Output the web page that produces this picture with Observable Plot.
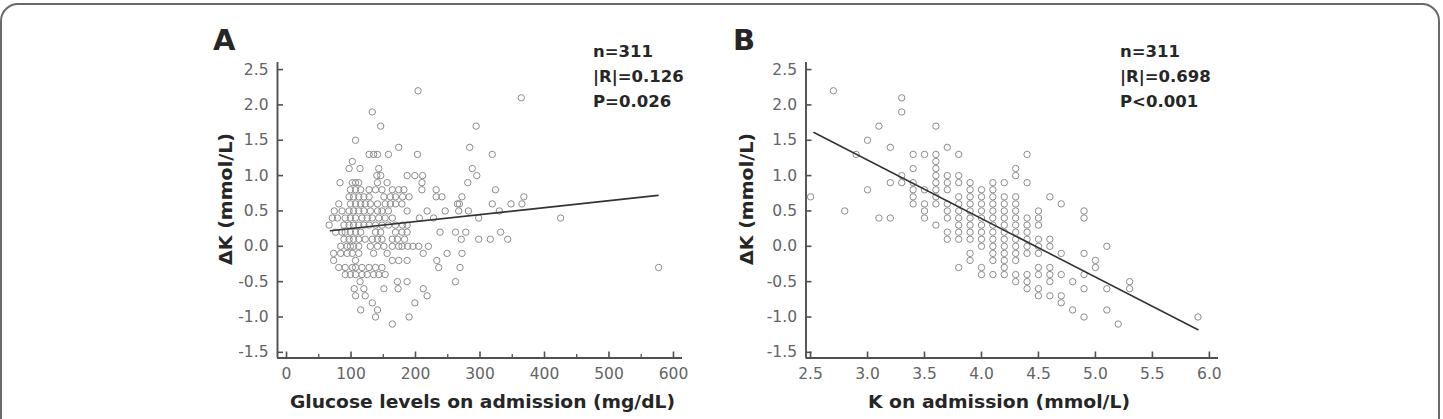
<!DOCTYPE html>
<html><head><meta charset="utf-8">
<script src="https://cdn.jsdelivr.net/npm/d3@7"></script>
<script src="https://cdn.jsdelivr.net/npm/@observablehq/plot@0.6"></script>
<style>
body{margin:0;background:#fff;overflow:hidden;font-family:"DejaVu Sans",sans-serif;}
#wrap{position:relative;width:1443px;height:419px;overflow:hidden;}
#frame{position:absolute;left:0;top:3px;width:1436px;height:470px;border:2.5px solid #6a6a6a;border-radius:18px;}
.panel{position:absolute;top:0;}
#overlay{position:absolute;left:0;top:0;}
</style></head><body>
<div id="wrap"><div id="frame"></div></div>
<script>
// ---------- data ----------
const yTicks = [-1.5, -1.0, -0.5, 0.0, 0.5, 1.0, 1.5, 2.0, 2.5];
const glucoseTicks = [0, 100, 200, 300, 400, 500, 600];
const glucoseMinorTicks = [50, 150, 250, 350, 450, 550];
const kTicks = [2.5, 3.0, 3.5, 4.0, 4.5, 5.0, 5.5, 6.0];

// Panel A: ΔK levels and the glucose values (mg/dL) observed at each level
const deltaKLevelsA = [2.2, 2.1, 1.9, 1.7, 1.5, 1.4, 1.3, 1.2, 1.1, 1.0, 0.9, 0.8, 0.7, 0.6, 0.5, 0.4, 0.3, 0.2, 0.1, 0.0,
  -0.1, -0.2, -0.3, -0.4, -0.5, -0.6, -0.7, -0.8, -0.9, -1.0, -1.1];
const glucoseRowsA = [
  [204],
  [364],
  [133],
  [146, 294],
  [107],
  [174, 284],
  [128, 135, 141, 158, 203, 319],
  [102],
  [97, 114, 143, 288],
  [140, 146, 187, 199, 211, 295],
  [83, 102, 107, 112, 141, 156, 210, 281],
  [99, 107, 115, 128, 138, 148, 164, 174, 182, 210, 232, 324],
  [97, 104, 112, 120, 128, 151, 161, 169, 180, 190, 232, 241, 272, 368],
  [81, 99, 107, 115, 122, 130, 141, 153, 161, 169, 179, 265, 268, 319, 348, 365],
  [74, 86, 97, 104, 112, 120, 130, 141, 148, 158, 187, 218, 246, 267, 282, 330],
  [71, 79, 91, 99, 107, 117, 125, 133, 143, 153, 164, 206, 228, 298, 425],
  [66, 89, 97, 104, 112, 120, 128, 138, 148, 158, 169, 180, 187],
  [76, 86, 91, 99, 107, 115, 138, 146, 169, 179, 187, 238, 262, 278, 332],
  [89, 97, 104, 112, 122, 133, 141, 148, 164, 172, 183, 271, 298, 316, 343],
  [84, 94, 99, 104, 112, 130, 141, 151, 164, 174, 179, 188, 196, 205, 220],
  [73, 84, 94, 102, 112, 135, 156, 212, 249, 272],
  [73, 107, 164, 174, 187, 233],
  [81, 91, 102, 107, 117, 128, 138, 148, 236, 269, 577],
  [91, 99, 107, 117, 125, 135, 143, 153],
  [114, 172, 187, 262],
  [105, 120, 151, 173, 212],
  [107, 122, 218],
  [133, 199],
  [115, 141],
  [138, 190],
  [164]
];

// Panel B: K on admission (mmol/L) and the ΔK values observed at each K
const kLevelsB = [2.5, 2.7, 2.8, 2.9, 3.0, 3.1, 3.2, 3.3, 3.4, 3.5, 3.6, 3.7, 3.8, 3.9, 4.0, 4.1, 4.2, 4.3, 4.4, 4.5,
  4.6, 4.7, 4.8, 4.9, 5.0, 5.1, 5.2, 5.3, 5.9];
const deltaKColsB = [
  [0.7],
  [2.2],
  [0.5],
  [1.3],
  [1.5, 0.8],
  [1.7, 0.4],
  [1.4, 0.9, 0.4],
  [2.1, 1.9, 1.0, 0.9],
  [1.3, 1.1, 0.9, 0.8, 0.7, 0.6],
  [1.3, 0.8, 0.6, 0.5, 0.4],
  [1.7, 1.3, 1.2, 1.1, 1.0, 0.9, 0.8, 0.7, 0.6, 0.3],
  [1.4, 1.0, 0.9, 0.8, 0.6, 0.5, 0.4, 0.2, 0.1],
  [1.3, 1.0, 0.9, 0.7, 0.6, 0.5, 0.4, 0.3, 0.2, 0.1, -0.3],
  [0.9, 0.8, 0.7, 0.6, 0.5, 0.4, 0.3, 0.2, 0.1, -0.1, -0.2],
  [0.8, 0.7, 0.6, 0.5, 0.4, 0.3, 0.2, 0.1, 0.0, -0.3, -0.4],
  [0.9, 0.8, 0.7, 0.6, 0.5, 0.4, 0.3, 0.2, 0.1, 0.0, -0.1, -0.2, -0.4],
  [0.9, 0.7, 0.6, 0.5, 0.4, 0.3, 0.2, 0.1, 0.0, -0.1, -0.2, -0.3, -0.4],
  [1.1, 1.0, 0.7, 0.6, 0.5, 0.4, 0.3, 0.2, 0.1, 0.0, -0.1, -0.2, -0.4, -0.5],
  [1.3, 0.9, 0.4, 0.3, 0.2, 0.1, 0.0, -0.1, -0.4, -0.5, -0.6],
  [0.5, 0.4, 0.3, 0.1, 0.0, -0.1, -0.3, -0.4, -0.6, -0.7],
  [0.7, 0.1, 0.0, -0.3, -0.4, -0.5, -0.7],
  [0.6, -0.1, -0.4, -0.7, -0.8],
  [-0.5, -0.9],
  [0.5, 0.4, -0.1, -0.4, -0.6, -1.0],
  [-0.2, -0.3],
  [0.0, -0.6, -0.9],
  [-1.1],
  [-0.5, -0.6],
  [-1.0]
];

// regression lines (end points)
const fitGlucose = [68, 576];
const fitDeltaKA = [0.22, 0.72];
const fitK = [2.53, 5.9];
const fitDeltaKB = [1.61, -1.18];

const statsA = ["n=311", "|R|=0.126", "P=0.026"];
const statsB = ["n=311", "|R|=0.698", "P<0.001"];
const panelLetters = ["A", "B"];
const xTitles = ["Glucose levels on admission (mg/dL)", "K on admission (mmol/L)"];
const yTitle = "\u0394K (mmol/L)";

// ---------- build ----------
const dataA = deltaKLevelsA.flatMap((dk, i) => glucoseRowsA[i].map(g => ({x: g, y: dk})));
const dataB = kLevelsB.flatMap((k, i) => deltaKColsB[i].map(dk => ({x: k, y: dk})));
const fitA = fitGlucose.map((g, i) => ({x: g, y: fitDeltaKA[i]}));
const fitB = fitK.map((k, i) => ({x: k, y: fitDeltaKB[i]}));

const H = 419, mTop = 62, mBottom = 61.5;
const yDomain = [-1.58, 2.6];
const pxPerY = (H - mTop - mBottom) / (yDomain[1] - yDomain[0]);
const axisColor = "#505050";
const dotColor = "#8c8c8c";
const tickTextColor = "#646464";

function panel({left, width, mLeft, mRight, xDomain, xTicks, xMinor, xFormat, data, fit}) {
  const pxPerX = (width - mLeft - mRight) / (xDomain[1] - xDomain[0]);
  const [x0, x1] = xDomain, [y0, y1] = yDomain;
  const tick = 6, minor = 3.5;
  const marks = [
    Plot.axisX(xTicks, {tickSize: 0, tickPadding: 10, fontSize: 15.5, color: tickTextColor, label: null, tickFormat: xFormat}),
    Plot.axisY(yTicks, {tickSize: 0, tickPadding: 9, fontSize: 15.5, color: tickTextColor, label: null, tickFormat: d => d.toFixed(1)}),
    Plot.ruleX(xTicks, {x: d => d, y1: y0, y2: y0 + tick / pxPerY, stroke: axisColor, strokeWidth: 1.6}),
    Plot.ruleY(yTicks, {y: d => d, x1: x0, x2: x0 + tick / pxPerX, stroke: axisColor, strokeWidth: 1.6}),
    Plot.ruleX([x0], {y1: y0, y2: y1, stroke: axisColor, strokeWidth: 1.9}),
    Plot.ruleY([y0], {x1: x0, x2: x1, stroke: axisColor, strokeWidth: 1.9}),
    Plot.dot(data, {x: "x", y: "y", r: 3.2, stroke: dotColor, strokeWidth: 1, fill: "none"}),
    Plot.line(fit, {x: "x", y: "y", stroke: "#333", strokeWidth: 1.6})
  ];
  if (xMinor) marks.push(Plot.ruleX(xMinor, {x: d => d, y1: y0, y2: y0 + minor / pxPerY, stroke: axisColor, strokeWidth: 1.3}));
  const svg = Plot.plot({
    width, height: H,
    marginLeft: mLeft, marginRight: mRight, marginTop: mTop, marginBottom: mBottom,
    style: {background: "transparent", fontFamily: "'DejaVu Sans', sans-serif", overflow: "visible"},
    x: {domain: xDomain},
    y: {domain: yDomain},
    marks
  });
  svg.classList.add("panel");
  svg.style.left = left + "px";
  document.getElementById("wrap").appendChild(svg);
}

panel({left: 0, width: 720, mLeft: 277, mRight: 38, xDomain: [-14, 614], xTicks: glucoseTicks, xMinor: glucoseMinorTicks,
  xFormat: d => String(d), data: dataA, fit: fitA});
panel({left: 720, width: 723, mLeft: 85.5, mRight: 225, xDomain: [2.46, 6.08], xTicks: kTicks, xMinor: null,
  xFormat: d => d.toFixed(1), data: dataB, fit: fitB});

// ---------- text overlay ----------
const ov = d3.select("#wrap").append("svg").attr("id", "overlay").attr("width", 1443).attr("height", H)
  .style("font-family", "'DejaVu Sans', sans-serif").style("font-weight", "bold").attr("fill", "#262626");
const letterX = [213, 733];
panelLetters.forEach((t, i) => ov.append("text").attr("x", letterX[i]).attr("y", 50).attr("font-size", 29).text(t));
const statX = [593, 1120];
[statsA, statsB].forEach((lines, i) => lines.forEach((t, j) =>
  ov.append("text").attr("x", statX[i]).attr("y", 57 + j * 25).attr("font-size", 16.5).text(t)));
const xTitleX = [482.5, 999], xTitleLen = [385, 262];
xTitles.forEach((t, i) => ov.append("text").attr("x", xTitleX[i]).attr("y", 408).attr("text-anchor", "middle")
  .attr("font-size", 18).attr("textLength", xTitleLen[i]).attr("lengthAdjust", "spacingAndGlyphs").text(t));
const yTitleX = [232, 753];
yTitleX.forEach(x => ov.append("text").attr("transform", `translate(${x},199) rotate(-90)`).attr("text-anchor", "middle")
  .attr("font-size", 18).attr("textLength", 132).attr("lengthAdjust", "spacingAndGlyphs").text(yTitle));
</script>
</body></html>
